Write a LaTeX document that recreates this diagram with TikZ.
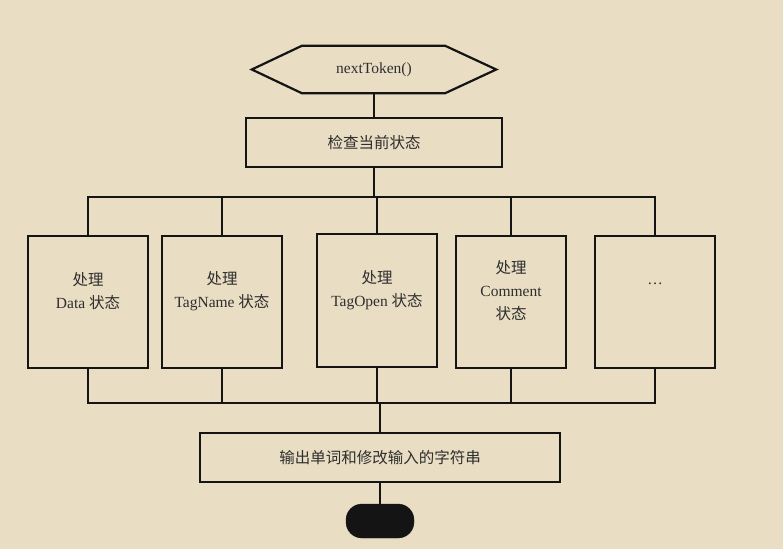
\documentclass[tikz,border=0pt]{standalone}
\usepackage{fontspec}
\setmainfont{Liberation Serif}
\newfontfamily\cjk{Noto Sans CJK SC}
\newcommand{\zh}[1]{{\cjk #1}}
\usetikzlibrary{calc,positioning}
\definecolor{paperBeige}{HTML}{E9DEC4}
\definecolor{inkGrey}{HTML}{2E2E2E}
\definecolor{lineBlack}{HTML}{141414}

\begin{document}
\begin{tikzpicture}[
  x=1pt, y=-1pt,
  font=\fontsize{15.5}{23}\selectfont, text=inkGrey,
  ln/.style={draw=lineBlack, line width=2.2pt},
  bar/.style={rectangle, draw=lineBlack, line width=2.2pt, align=center,
              minimum height=49pt},
  state/.style={rectangle, draw=lineBlack, line width=2.2pt,
              minimum width=120pt, minimum height=132pt},
  txt/.style={align=center, inner sep=0pt},
  term/.style={rectangle, rounded corners=16pt, fill=lineBlack, draw=lineBlack,
              minimum width=68pt, minimum height=34pt}
]
% ---- paper
\fill[paperBeige] (0,0) rectangle (783,549);
\useasboundingbox (0,0) rectangle (783,549);

% ---- entry
\node[minimum width=244pt, minimum height=47pt, inner sep=0pt] (start) at (374,69.5) {nextToken()};
\draw[ln] (start.west) -- ([xshift=50pt]start.north west) -- ([xshift=-51pt]start.north east)
  -- (start.east) -- ([xshift=-51pt]start.south east) -- ([xshift=50pt]start.south west) -- cycle;

\node[bar, minimum width=256pt] (chk) at (374,142.5) {\zh{检查当前状态}};
\draw[ln] (start.south) -- (chk.north);

% ---- state handlers
\node[state] (b1) at (88,302) {};
\node[state] (b2) at (222,302) {};
\node[state, minimum height=133pt] (b3) at (377,300.5) {};
\node[state, minimum width=110pt] (b4) at (511,302) {};
\node[state] (b5) at (655,302) {};

\node[txt] (t1) at (88,291.5) {\zh{处理}\\Data \zh{状态}};
\node[txt] (t2) at (222,291.5) {\zh{处理}\\TagName \zh{状态}};
\node[txt] (t3) at (377,290) {\zh{处理}\\TagOpen \zh{状态}};
\node[txt] (t4) at (511,291) {\zh{处理}\\Comment\\\zh{状态}};
\node[txt] (t5) at (655,284) {…};

% ---- fan out
\coordinate (busT) at (376,197);
\draw[ln] (chk.south) -- (chk.south |- busT);
\draw[ln] (b1.north) -- (b1.north |- busT) -- (b5.north |- busT) -- (b5.north);
\foreach \b in {b2,b3,b4}{\draw[ln] (\b.north |- busT) -- (\b.north);}

% ---- fan in
\coordinate (busB) at (378,403);
\draw[ln] (b1.south) -- (b1.south |- busB) -- (b5.south |- busB) -- (b5.south);
\foreach \b in {b2,b3,b4}{\draw[ln] (\b.south) -- (\b.south |- busB);}

\node[bar, minimum width=360pt] (out) at (380,457.5) {\zh{输出单词和修改输入的字符串}};
\draw[ln] (out.north |- busB) -- (out.north);

\node[term] (end) at (380,521) {};
\draw[ln] (out.south) -- (end.north);
\end{tikzpicture}
\end{document}
